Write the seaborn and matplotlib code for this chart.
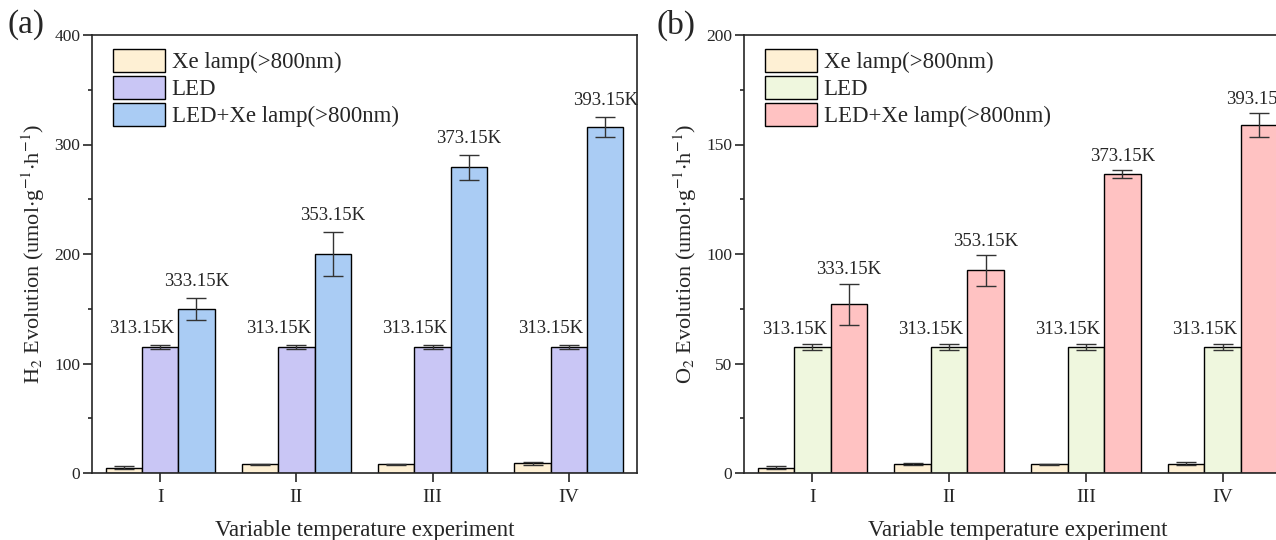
import numpy as np
import pandas as pd
import seaborn as sns
import matplotlib.pyplot as plt
from matplotlib.ticker import MultipleLocator

experiments = ["I", "II", "III", "IV"]
sources = ["Xe lamp(>800nm)", "LED", "LED+Xe lamp(>800nm)"]

# H2 evolution (panel a)
h2_xe = [5, 8, 8, 9]
h2_xe_err = [1.5, 0.5, 0.5, 1.5]
h2_led = [115, 115, 115, 115]
h2_led_err = [1.5, 1.5, 1.5, 1.5]
h2_mix = [150, 200, 279, 316]
h2_mix_err = [10, 20, 11.5, 9]

# O2 evolution (panel b)
o2_xe = [2.4, 4.1, 3.9, 4.3]
o2_xe_err = [0.8, 0.4, 0.3, 0.6]
o2_led = [57.5, 57.5, 57.5, 57.5]
o2_led_err = [1.5, 1.5, 1.5, 1.5]
o2_mix = [77, 92.5, 136.5, 159]
o2_mix_err = [9.5, 7, 1.7, 5.4]

led_temps = ["313.15K", "313.15K", "313.15K", "313.15K"]
mix_temps = ["333.15K", "353.15K", "373.15K", "393.15K"]

sns.set_style("ticks")
plt.rcParams["font.family"] = ["Liberation Serif", "DejaVu Serif"]
plt.rcParams["mathtext.fontset"] = "stix"
plt.rcParams["axes.linewidth"] = 1.2


def panel(ax, xe, xe_err, led, led_err, mix, mix_err, colors, ymax, step, ylabel, tag, off):
    df = pd.DataFrame({
        "exp": experiments * 3,
        "source": np.repeat(sources, 4),
        "value": xe + led + mix,
    })
    sns.barplot(data=df, x="exp", y="value", hue="source", hue_order=sources,
                palette=colors, saturation=1, edgecolor="black", linewidth=1,
                errorbar=None, ax=ax)
    # error bars on top of each bar
    for cont, errs in zip(ax.containers, [xe_err, led_err, mix_err]):
        for bar, e in zip(cont, errs):
            ax.errorbar(bar.get_x() + bar.get_width() / 2, bar.get_height(), yerr=e,
                        fmt="none", ecolor="#333333", elinewidth=1, capsize=7, capthick=1)
    # temperature labels
    for bar, e, t in zip(ax.containers[1], led_err, led_temps):
        ax.annotate(t, (bar.get_x(), bar.get_height() + e), xytext=(0, off),
                    textcoords="offset points", ha="center", va="center", fontsize=13.5)
    for bar, e, t in zip(ax.containers[2], mix_err, mix_temps):
        ax.annotate(t, (bar.get_x() + bar.get_width() / 2, bar.get_height() + e),
                    xytext=(0, off), textcoords="offset points", ha="center",
                    va="center", fontsize=13.5, annotation_clip=False)
    ax.set_xlim(-0.5, 3.5)
    ax.set_ylim(0, ymax)
    ax.yaxis.set_major_locator(MultipleLocator(step))
    ax.yaxis.set_minor_locator(MultipleLocator(step / 2))
    ax.tick_params(axis="both", which="major", direction="out", length=6.5, width=1.2,
                   labelsize=12.5, top=False, right=False)
    ax.tick_params(axis="y", which="major", pad=2)
    ax.tick_params(axis="y", which="minor", direction="out", length=3, width=1.2)
    ax.tick_params(axis="x", pad=5, labelsize=14)
    ax.set_xlabel("Variable temperature experiment", fontsize=16.5, labelpad=10)
    ax.set_ylabel(ylabel, fontsize=16, labelpad=5)
    ax.legend(loc="upper left", bbox_to_anchor=(0.038, 0.968), borderaxespad=0,
              borderpad=0, frameon=False, fontsize=16.5, handlelength=2.3,
              handleheight=1.15, labelspacing=0.12, handletextpad=0.27)
    ax.text(-0.088, 1.023, tag, transform=ax.transAxes, fontsize=24,
            ha="right", va="center")


fig = plt.figure(figsize=(12.76, 5.4), dpi=100)
ax1 = fig.add_axes([92 / 1276, 67 / 540, 545 / 1276, 438 / 540])
ax2 = fig.add_axes([744 / 1276, 67 / 540, 547 / 1276, 438 / 540])

panel(ax1, h2_xe, h2_xe_err, h2_led, h2_led_err, h2_mix, h2_mix_err,
      ["#FEF0D4", "#C9C6F5", "#AACCF4"], 400, 100,
      r"H$_2$ Evolution (umol$\cdot$g$^{-1}$$\cdot$h$^{-1}$)", "(a)", 12)
panel(ax2, o2_xe, o2_xe_err, o2_led, o2_led_err, o2_mix, o2_mix_err,
      ["#FEF0D4", "#EFF7DE", "#FFC2C2"], 200, 50,
      r"O$_2$ Evolution (umol$\cdot$g$^{-1}$$\cdot$h$^{-1}$)", "(b)", 10)

fig.savefig("out.png", dpi=100)
